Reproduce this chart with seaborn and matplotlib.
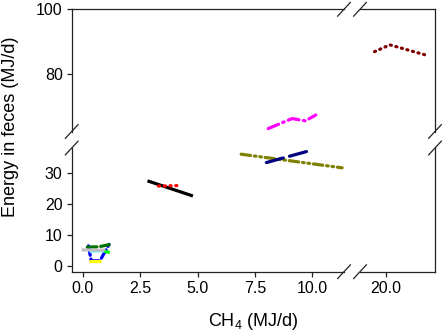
import matplotlib
matplotlib.use("Agg")
import matplotlib.pyplot as plt
from matplotlib.lines import Line2D
import seaborn as sns
import pandas as pd

sns.set_style("ticks")
plt.rcParams['font.family'] = ['Liberation Sans', 'DejaVu Sans']
plt.rcParams['mathtext.fontset'] = 'custom'
plt.rcParams['mathtext.rm'] = 'Liberation Sans'
plt.rcParams['text.color'] = 'black'
plt.rcParams['xtick.color'] = 'black'
plt.rcParams['ytick.color'] = 'black'

# ---- data (CH4 MJ/d, energy in feces MJ/d) ----
ch4_maroon = [19.5, 20.17, 21.8]
ef_maroon = [86.9, 89.0, 85.7]
ch4_magenta = [8.08, 9.12, 9.7, 10.15]
ef_magenta = [63.1, 66.2, 65.5, 67.3]
ch4_olive = [6.9, 11.3]
ef_olive = [36.0, 31.6]
ch4_navy = [8.0, 9.97]
ef_navy = [33.3, 37.3]
ch4_black = [2.82, 4.8]
ef_black = [27.4, 22.5]
ch4_red = [3.3, 4.3]
ef_red = [25.7, 25.9]
ch4_blue = [0.25, 0.37, 0.75, 1.15]
ef_blue = [6.4, 1.6, 1.6, 6.9]
ch4_green = [0.2, 0.7, 1.15]
ef_green = [6.0, 6.1, 6.8]
ch4_gray = [-0.05, 1.0]
ef_gray = [5.1, 5.0]
ch4_cyan = [0.3, 0.95]
ef_cyan = [4.6, 4.8]
ch4_yellow = [0.27, 0.8]
ef_yellow = [1.4, 1.4]
ch4_lime = [0.95, 1.18]
ef_lime = [4.6, 4.3]

x_ticks_left = [0.0, 2.5, 5.0, 7.5, 10.0]
x_ticks_right = [20.0]
y_ticks_top = [80, 100]
y_ticks_bottom = [0, 10, 20, 30]

series = [
    (ch4_olive, ef_olive, '#808000', (0, (3, 1.2, 0.5, 1.2, 0.5, 1.2))),
    (ch4_navy, ef_navy, '#000080', (0, (5.5, 2))),
    (ch4_magenta, ef_magenta, '#FF00FF', (0, (3.5, 1.4, 0.5, 1.4))),
    (ch4_maroon, ef_maroon, '#800000', (0, (0.35, 1.45))),
    (ch4_black, ef_black, '#000000', '-'),
    (ch4_red, ef_red, '#FF0000', (0, (0.35, 1.45))),
    (ch4_blue, ef_blue, '#0000FF', (0, (3, 1.2))),
    (ch4_yellow, ef_yellow, '#FFFF00', '-'),
    (ch4_cyan, ef_cyan, '#80FFFF', '-'),
    (ch4_green, ef_green, '#007000', (0, (3, 1.2))),
    (ch4_gray, ef_gray, '#C0C0C0', '-'),
    (ch4_lime, ef_lime, '#00FF00', '-'),
]

W, H = 445, 336
fig = plt.figure(figsize=(W / 100, H / 100), dpi=100)

def px(x0, y0, x1, y1):
    return [x0 / W, 1 - y1 / H, (x1 - x0) / W, (y1 - y0) / H]

XL0, XL1, XR0, XR1 = 71.7, 344, 360, 435
YT0, YT1, YB0, YB1 = 9.3, 131.5, 148, 271.7

ax_tl = fig.add_axes(px(XL0, YT0, XL1, YT1))
ax_tr = fig.add_axes(px(XR0, YT0, XR1, YT1))
ax_bl = fig.add_axes(px(XL0, YB0, XL1, YB1))
ax_br = fig.add_axes(px(XR0, YB0, XR1, YB1))

xlim_left = (-0.48, 11.38)
xlim_right = (18.87, 22.13)
ylim_top = (62.2, 100)
ylim_bottom = (-1.94, 38.0)

for ax in (ax_tl, ax_tr, ax_bl, ax_br):
    for xs, ys, col, ls in series:
        df = pd.DataFrame({'x': xs, 'y': ys})
        sns.lineplot(data=df, x='x', y='y', ax=ax, color=col, linestyle=ls,
                     linewidth=2.3, sort=False, estimator=None,
                     solid_capstyle='butt', dash_capstyle='round')
    ax.set_xlabel('')
    ax.set_ylabel('')
    for s in ax.spines.values():
        s.set_linewidth(0.9)
        s.set_color('#222222')
    ax.tick_params(labelsize=11.5, length=3.5, width=0.9, color='#222222',
                   labelcolor='black', pad=3)

ax_tl.set_xlim(*xlim_left); ax_bl.set_xlim(*xlim_left)
ax_tr.set_xlim(*xlim_right); ax_br.set_xlim(*xlim_right)
ax_tl.set_ylim(*ylim_top); ax_tr.set_ylim(*ylim_top)
ax_bl.set_ylim(*ylim_bottom); ax_br.set_ylim(*ylim_bottom)

ax_tl.spines['right'].set_visible(False); ax_tl.spines['bottom'].set_visible(False)
ax_tr.spines['left'].set_visible(False); ax_tr.spines['bottom'].set_visible(False)
ax_bl.spines['right'].set_visible(False); ax_bl.spines['top'].set_visible(False)
ax_br.spines['left'].set_visible(False); ax_br.spines['top'].set_visible(False)

ax_tl.set_xticks([]); ax_tr.set_xticks([])
ax_tr.set_yticks([]); ax_br.set_yticks([])
ax_tl.set_yticks(y_ticks_top)
ax_tl.set_yticklabels([str(v) for v in y_ticks_top])
ax_bl.set_yticks(y_ticks_bottom)
ax_bl.set_yticklabels([str(v) for v in y_ticks_bottom])
ax_bl.set_xticks(x_ticks_left)
ax_bl.set_xticklabels([f"{v:.1f}" for v in x_ticks_left])
ax_br.set_xticks(x_ticks_right)
ax_br.set_xticklabels([f"{v:.1f}" for v in x_ticks_right])

# break marks
def brk(cx, cy, dx=6.5, dy=7):
    fig.add_artist(Line2D([(cx - dx) / W, (cx + dx) / W],
                          [1 - (cy + dy) / H, 1 - (cy - dy) / H],
                          transform=fig.transFigure, color='#222222', lw=0.9))

for cx in (XL1, XR0):
    brk(cx, YT0)
    brk(cx, YB1)
for cy in (YT1, YB0):
    brk(XL0, cy)
    brk(XR1, cy)

fig.text(253 / W, 1 - 321.5 / H, 'CH$_4$ (MJ/d)', ha='center', va='center', fontsize=13)
fig.text(11 / W, 1 - 127 / H, 'Energy in feces (MJ/d)', ha='center', va='center',
         rotation=90, fontsize=13)

fig.savefig('out.png', dpi=100)
